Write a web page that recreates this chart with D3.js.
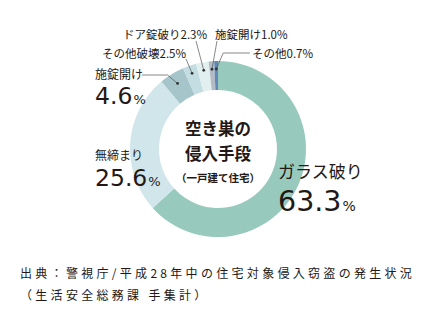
<!DOCTYPE html>
<html><head><meta charset="utf-8">
<script src="https://cdn.jsdelivr.net/npm/d3@7"></script>
<style>
html,body{margin:0;padding:0;background:#fff;}
svg{display:block;}
text{font-family:"Noto Sans CJK JP","Noto Sans",sans-serif;fill:#231815;}
text.num{font-family:"DejaVu Sans",sans-serif;font-weight:400;}
</style></head>
<body>
<svg id="chart" width="434" height="330"></svg>
<script>
// Break-in methods, detached houses (percent)
const categories = ["ガラス破り", "無締まり", "施錠開け", "その他破壊", "ドア錠破り", "施錠開け", "その他"];
const values = [63.3, 25.6, 4.6, 2.5, 2.3, 1.0, 0.7];
const colors = ["#97cabc", "#d0e6eb", "#a6c5ca", "#c3dde3", "#e1f0ee", "#b3bcc5", "#6089b8"];
const centerLines = ["空き巣の", "侵入手段"];
const centerSub = "（一戸建て住宅）";
const sourceLines = ["出典：警視庁/平成28年中の住宅対象侵入窃盗の発生状況", "（生活安全総務課 手集計）"];

const svg = d3.select("#chart");
const cx = 218, cy = 149, outerR = 88, innerR = 59;
const g = svg.append("g").attr("transform", `translate(${cx},${cy})`);

const pie = d3.pie().sort(null).value(d => d.v);
const data = pie(values.map((v, i) => ({ v, name: categories[i], i })));
const arc = d3.arc().innerRadius(innerR).outerRadius(outerR);

g.selectAll("path.slice").data(data).enter().append("path")
  .attr("class", "slice")
  .attr("d", arc)
  .attr("fill", (d, i) => colors[i]);

// centre title
g.append("text").attr("text-anchor", "middle").attr("y", -14)
  .style("font-size", "16.5px").style("font-weight", 700).text(centerLines[0]);
g.append("text").attr("text-anchor", "middle").attr("y", 11)
  .style("font-size", "16.5px").style("font-weight", 700).text(centerLines[1]);
g.append("text").attr("text-anchor", "middle").attr("y", 33)
  .style("font-size", "10.5px").style("font-weight", 700).text(centerSub);

// point inside a slice at a given radius
function inside(d, r) {
  const a = (d.startAngle + d.endAngle) / 2;
  return [cx + r * Math.sin(a), cy - r * Math.cos(a)];
}
const fmt = v => v.toFixed(1);

// big labels: category name above a large percentage
function bigLabel(x, yName, yVal, d, nameSize, valSize, pctSize) {
  svg.append("text").attr("x", x).attr("y", yName)
    .style("font-size", nameSize + "px").text(d.data.name);
  const t = svg.append("text").attr("class", "num").attr("x", x).attr("y", yVal);
  t.append("tspan").style("font-size", valSize + "px").text(fmt(d.data.v));
  t.append("tspan").attr("dx", 1).style("font-size", pctSize + "px").text("%");
}
bigLabel(278, 178, 211, data[0], 17, 28.5, 14);
bigLabel(95, 160, 186, data[1], 12, 23.5, 13);
bigLabel(95, 79, 104, data[2], 12, 23.5, 13);

const lineStyle = sel => sel.attr("stroke", "#555").attr("stroke-width", 0.7).attr("fill", "none");
const dot = p => svg.append("circle").attr("cx", p[0]).attr("cy", p[1]).attr("r", 1.4).attr("fill", "#333");

// 施錠開け 4.6%
{
  const p = inside(data[2], 77);
  svg.append("polyline").call(lineStyle)
    .attr("points", `142,75 ${p[0] - 10},75 ${p[0]},${p[1]}`);
  dot(p);
}

// small labels above the ring
function smallLabel(d, x, y) {
  svg.append("text").attr("x", x).attr("y", y)
    .style("font-size", "11.5px").text(d.data.name + fmt(d.data.v) + "%");
}
// その他破壊 2.5%
{
  const d = data[3], p = inside(d, 80);
  smallLabel(d, 102, 58);
  svg.append("line").call(lineStyle).attr("x1", 186).attr("y1", 59).attr("x2", p[0]).attr("y2", p[1]);
  dot(p);
}
// ドア錠破り 2.3%
{
  const d = data[4], p = inside(d, 80);
  smallLabel(d, 123, 39);
  svg.append("line").call(lineStyle).attr("x1", 196).attr("y1", 41).attr("x2", p[0]).attr("y2", p[1]);
  dot(p);
}
// 施錠開け 1.0%
{
  const d = data[5], p = inside(d, 80);
  smallLabel(d, 215, 39);
  svg.append("line").call(lineStyle).attr("x1", 217).attr("y1", 41).attr("x2", p[0]).attr("y2", p[1]);
  dot(p);
}
// その他 0.7%
{
  const d = data[6], p = inside(d, 80);
  smallLabel(d, 252, 58);
  svg.append("polyline").call(lineStyle)
    .attr("points", `250,53 ${p[0] + 7},53 ${p[0]},${p[1]}`);
  dot(p);
}

// source note
sourceLines.forEach((s, i) => {
  svg.append("text").attr("x", 20).attr("y", 278 + i * 22)
    .style("font-size", "12px").style("letter-spacing", "3.3px").text(s);
});
</script>
</body></html>
